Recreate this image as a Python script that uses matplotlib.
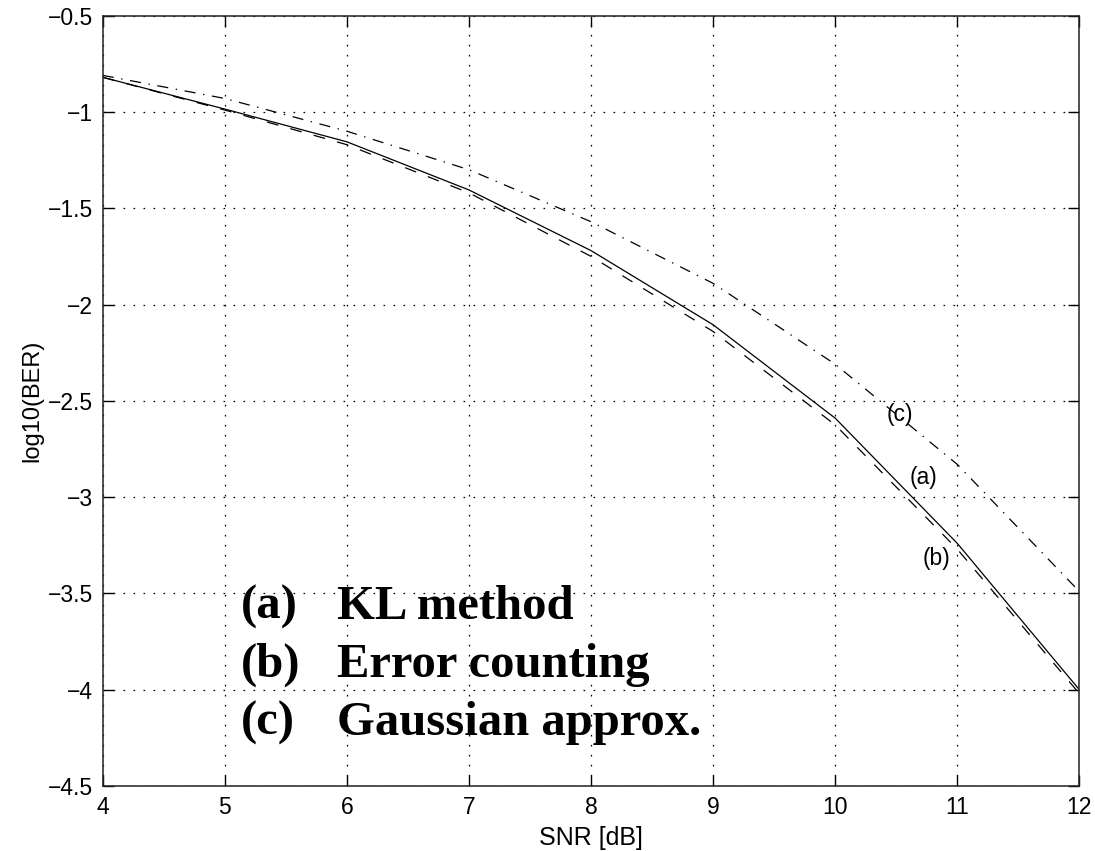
import matplotlib
matplotlib.use("Agg")
import matplotlib.pyplot as plt
from matplotlib.ticker import FixedLocator, FuncFormatter

plt.rcParams['lines.scale_dashes'] = False
plt.rcParams['font.family'] = ['Liberation Sans', 'DejaVu Sans']

snr = [4, 5, 6, 7, 8, 9, 10, 11, 12]
ber_a = [-0.82, -0.985, -1.155, -1.405, -1.72, -2.105, -2.59, -3.24, -4.00]   # KL method
ber_b = [-0.82, -0.99, -1.17, -1.42, -1.75, -2.14, -2.625, -3.27, -4.02]      # Error counting
ber_c = [-0.81, -0.93, -1.10, -1.30, -1.57, -1.89, -2.31, -2.83, -3.49]       # Gaussian approx.

xticks = [4, 5, 6, 7, 8, 9, 10, 11, 12]
yticks = [-4.5, -4, -3.5, -3, -2.5, -2, -1.5, -1, -0.5]
legend_tags = ['(a)', '(b)', '(c)']
legend_names = ['KL method', 'Error counting', 'Gaussian approx.']

fig = plt.figure(figsize=(10.95, 8.51), dpi=100)
ax = fig.add_axes([0.0938, 0.0764, 0.8919, 0.9052])

ax.plot(snr, ber_a, color='black', lw=0.9, ls='-')
ax.plot(snr, ber_b, color='black', lw=0.9, dashes=(8.5, 9.0))
ax.plot(snr, ber_c, color='black', lw=0.9, dashes=(8.0, 5.5, 1.0, 5.5))

ax.set_xlim(4, 12)
ax.set_ylim(-4.5, -0.5)
ax.xaxis.set_major_locator(FixedLocator(xticks))
ax.yaxis.set_major_locator(FixedLocator(yticks))

def fmt(v, pos):
    s = ('%g' % v)
    return s.replace('-', '\u2212')

ax.xaxis.set_major_formatter(FuncFormatter(fmt))
ax.yaxis.set_major_formatter(FuncFormatter(fmt))

ax.tick_params(direction='in', length=8, width=1.0, top=True, right=True,
               labelsize=16.5, pad=7, colors='black')
ax.grid(True, color='black', lw=0.9, dashes=(1.2, 6.0))
for s in ax.spines.values():
    s.set_linewidth(1.1)
    s.set_color('#222222')

ax.set_xlabel('SNR [dB]', fontsize=18, labelpad=5)
ax.set_ylabel('log10(BER)', fontsize=17, labelpad=3)

# curve tags
ax.text(10.72, -2.90, '(a)', fontsize=16.5, ha='center', va='center')
ax.text(10.83, -3.32, '(b)', fontsize=16.5, ha='center', va='center')
ax.text(10.53, -2.57, '(c)', fontsize=16.5, ha='center', va='center')

# legend block
base_y = [-3.631, -3.932, -4.235]
for tag, name, y in zip(legend_tags, legend_names, base_y):
    ax.text(5.13, y, tag, fontsize=35, fontweight='bold',
            family='Liberation Serif', va='baseline', ha='left')
    ax.text(5.92, y, name, fontsize=35, fontweight='bold',
            family='Liberation Serif', va='baseline', ha='left')

fig.savefig('out.png', dpi=100)
